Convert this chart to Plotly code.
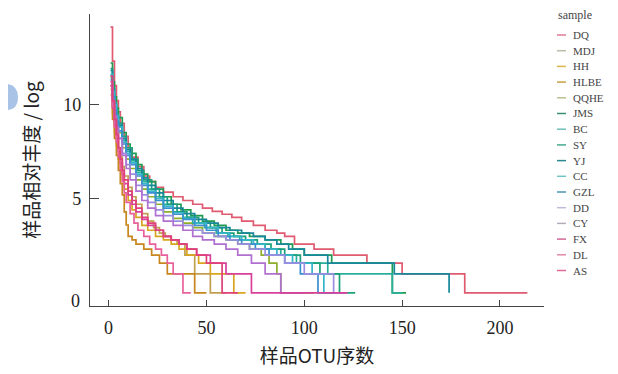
import plotly.graph_objects as go

samples = ["DQ", "MDJ", "HH", "HLBE", "QQHE", "JMS", "BC", "SY", "YJ", "CC", "GZL", "DD", "CY", "FX", "DL", "AS"]
colors = ["#e05a70", "#c0a050", "#d9a520", "#c8861e", "#8fae2a", "#1f9a50", "#2ab09a", "#1ba07a", "#17879a",
          "#35b5c8", "#3a8fcf", "#9a8ee0", "#b070d0", "#d8409a", "#e8609a", "#e0407a"]
legend_colors = ["#e07a90", "#b8bca8", "#d8b84a", "#c8a048", "#b8c090", "#3a9070", "#70c0b8", "#48a890", "#2a8890",
                 "#70c4c4", "#4a94b4", "#c4b8d8", "#b4acbc", "#d06898", "#e08aa8", "#e06a98"]

# rank at which each level starts, and log2 abundance values
DQ_rank = [1, 2, 3, 4, 5, 6, 8, 10, 12, 15, 18, 21, 24, 28, 33, 38, 43, 48, 53, 58, 63, 68, 74, 80, 86, 90, 95, 105, 115, 132, 150, 182, 214]
DQ_log = [14.1, 12.3, 11.0, 10.2, 9.6, 9.0, 8.3, 7.7, 7.2, 6.7, 6.2, 5.9, 5.6, 5.35, 5.1, 4.9, 4.7, 4.5, 4.32, 4.17, 4.0, 3.81, 3.58, 3.32, 3.17, 3.0, 2.58, 2.32, 2.0, 1.58, 1.0, 0, 0]

MDJ_rank = [1, 2, 3, 4, 5, 6, 7, 8, 10, 12, 14, 17, 20, 23, 26, 29, 32, 35, 39, 44, 52, 60]
MDJ_log = [11.0, 9.9, 9.0, 8.3, 7.7, 7.2, 6.7, 6.2, 5.6, 5.1, 4.7, 4.2, 3.81, 3.46, 3.17, 3.0, 2.81, 2.58, 2.0, 1.0, 0, 0]

HH_rank = [1, 2, 3, 4, 5, 6, 7, 8, 10, 12, 14, 17, 20, 24, 28, 32, 36, 40, 46, 52, 64, 70]
HH_log = [10.8, 9.5, 8.5, 7.8, 7.1, 6.5, 6.0, 5.5, 4.9, 4.4, 4.0, 3.58, 3.32, 3.0, 2.81, 2.58, 2.32, 2.0, 1.58, 1.0, 0, 0]

HLBE_rank = [1, 2, 3, 4, 5, 6, 7, 8, 9, 10, 12, 14, 18, 22, 26, 30, 44, 50]
HLBE_log = [10.5, 9.2, 8.2, 7.3, 6.5, 5.8, 5.2, 4.3, 3.6, 3.0, 2.81, 2.58, 2.32, 2.0, 1.58, 1.0, 0, 0]

QQHE_rank = [1, 2, 3, 4, 5, 7, 9, 11, 14, 17, 20, 24, 28, 33, 38, 43, 48, 54, 60, 66, 72, 78, 82, 86, 88, 105]
QQHE_log = [11.4, 10.5, 9.7, 9.1, 8.5, 7.7, 7.1, 6.6, 6.0, 5.5, 5.1, 4.7, 4.3, 3.95, 3.7, 3.46, 3.17, 3.0, 2.81, 2.58, 2.32, 2.0, 1.58, 1.0, 0, 0]

JMS_rank = [1, 2, 3, 4, 5, 7, 9, 11, 14, 17, 20, 24, 28, 32, 37, 42, 48, 54, 60, 66, 72, 80, 88, 94, 100, 114, 145, 152]
JMS_log = [12.2, 11.2, 10.4, 9.8, 9.3, 8.5, 7.9, 7.4, 6.8, 6.3, 5.9, 5.5, 5.1, 4.7, 4.4, 4.1, 3.81, 3.58, 3.32, 3.17, 3.0, 2.81, 2.58, 2.32, 2.0, 1.58, 0, 0]

BC_rank = [1, 2, 3, 4, 5, 7, 9, 11, 14, 17, 20, 24, 28, 33, 38, 43, 49, 55, 61, 67, 73, 80, 88, 96, 112, 145, 150]
BC_log = [11.5, 10.6, 9.9, 9.3, 8.8, 8.1, 7.5, 7.0, 6.4, 5.9, 5.5, 5.1, 4.7, 4.3, 4.0, 3.7, 3.46, 3.17, 3.0, 2.81, 2.58, 2.32, 2.0, 1.58, 1.0, 0, 0]

SY_rank = [1, 2, 3, 4, 5, 7, 9, 12, 15, 18, 22, 26, 30, 35, 40, 46, 52, 58, 64, 70, 76, 83, 90, 98, 108, 118, 126]
SY_log = [11.9, 10.9, 10.1, 9.5, 9.0, 8.3, 7.7, 7.1, 6.5, 6.0, 5.5, 5.1, 4.7, 4.3, 4.0, 3.7, 3.46, 3.17, 3.0, 2.81, 2.58, 2.32, 2.0, 1.58, 1.0, 0, 0]

YJ_rank = [1, 2, 3, 4, 5, 7, 9, 11, 14, 17, 20, 24, 28, 33, 38, 44, 50, 56, 62, 68, 74, 80, 86, 92, 100, 112, 146, 174]
YJ_log = [11.8, 10.8, 10.0, 9.4, 8.9, 8.2, 7.6, 7.1, 6.6, 6.1, 5.7, 5.3, 4.9, 4.5, 4.2, 3.9, 3.7, 3.46, 3.32, 3.17, 3.0, 2.81, 2.58, 2.32, 2.0, 1.58, 1.0, 0]

CC_rank = [1, 2, 3, 4, 5, 7, 9, 11, 14, 17, 20, 24, 28, 33, 38, 44, 50, 56, 62, 68, 74, 80, 86, 94, 104, 110, 118]
CC_log = [11.6, 10.7, 10.0, 9.4, 8.8, 8.0, 7.4, 6.9, 6.3, 5.8, 5.4, 5.0, 4.6, 4.25, 3.95, 3.7, 3.46, 3.17, 3.0, 2.81, 2.58, 2.32, 2.0, 1.58, 1.0, 0, 0]

GZL_rank = [1, 2, 3, 4, 5, 7, 9, 11, 14, 17, 20, 24, 28, 33, 38, 44, 50, 56, 62, 68, 75, 82, 90, 98, 107, 115]
GZL_log = [11.3, 10.4, 9.7, 9.1, 8.6, 7.9, 7.3, 6.8, 6.2, 5.7, 5.3, 4.9, 4.5, 4.17, 3.9, 3.58, 3.32, 3.0, 2.81, 2.58, 2.32, 2.0, 1.58, 1.0, 0, 0]

DD_rank = [1, 2, 3, 4, 5, 7, 9, 11, 14, 17, 20, 24, 28, 33, 38, 43, 48, 54, 60, 66, 72, 80, 90, 100, 115, 122]
DD_log = [11.0, 10.0, 9.3, 8.7, 8.2, 7.4, 6.8, 6.3, 5.7, 5.2, 4.8, 4.4, 4.1, 3.81, 3.58, 3.32, 3.17, 3.0, 2.81, 2.58, 2.32, 2.0, 1.58, 1.0, 0, 0]

CY_rank = [1, 2, 3, 4, 5, 7, 9, 11, 14, 17, 20, 24, 28, 33, 38, 43, 48, 54, 60, 66, 73, 80, 88, 100]
CY_log = [11.2, 10.2, 9.4, 8.8, 8.2, 7.3, 6.6, 6.0, 5.4, 4.9, 4.5, 4.1, 3.81, 3.58, 3.32, 3.0, 2.81, 2.58, 2.32, 2.0, 1.58, 1.0, 0, 0]

FX_rank = [1, 2, 3, 4, 5, 6, 7, 8, 10, 12, 14, 17, 20, 24, 28, 32, 36, 40, 45, 52, 60, 73, 122]
FX_log = [11.0, 9.8, 8.9, 8.2, 7.5, 6.9, 6.3, 5.8, 5.2, 4.7, 4.3, 3.9, 3.58, 3.32, 3.0, 2.81, 2.58, 2.32, 2.0, 1.58, 1.0, 0, 0]

DL_rank = [1, 2, 3, 4, 5, 6, 7, 8, 9, 11, 13, 15, 18, 21, 24, 27, 30, 33, 38, 42]
DL_log = [11.2, 9.9, 8.8, 8.0, 7.2, 6.5, 5.9, 5.3, 4.8, 4.2, 3.7, 3.32, 3.0, 2.58, 2.32, 2.0, 1.58, 1.0, 0, 0]

AS_rank = [1, 2, 3, 4, 5, 6, 7, 8, 10, 12, 14, 17, 20, 24, 28, 32, 36, 40, 45, 50, 58, 66]
AS_log = [11.5, 10.2, 9.2, 8.4, 7.7, 7.1, 6.5, 6.0, 5.4, 4.9, 4.5, 4.0, 3.7, 3.32, 3.0, 2.81, 2.58, 2.32, 2.0, 1.58, 0, 0]

series = {
    "DQ": (DQ_rank, DQ_log), "MDJ": (MDJ_rank, MDJ_log), "HH": (HH_rank, HH_log),
    "HLBE": (HLBE_rank, HLBE_log), "QQHE": (QQHE_rank, QQHE_log), "JMS": (JMS_rank, JMS_log),
    "BC": (BC_rank, BC_log), "SY": (SY_rank, SY_log), "YJ": (YJ_rank, YJ_log), "CC": (CC_rank, CC_log),
    "GZL": (GZL_rank, GZL_log), "DD": (DD_rank, DD_log), "CY": (CY_rank, CY_log),
    "FX": (FX_rank, FX_log), "DL": (DL_rank, DL_log), "AS": (AS_rank, AS_log),
}

x_ticks = [0, 50, 100, 150, 200]
y_ticks = [5, 10]

serif = "Liberation Serif, Times New Roman, serif"
cjk = "Noto Sans CJK SC, sans-serif"

# page is offset by the default 8px body margin; plot area spans page x 90..544, y 14..306
PW, PH = 454.0, 292.0
def px(x):
    return (x - 90) / PW
def py(y):
    return (306 - y) / PH

fig = go.Figure()
for name, col in zip(samples, colors):
    r, v = series[name]
    fig.add_trace(go.Scatter(x=r, y=v, mode="lines", name=name, showlegend=False,
                             line=dict(color=col, width=1.7, shape="hv")))

# manual legend (compact spacing as in the reference)
fig.add_annotation(text="sample", xref="paper", yref="paper", x=px(556), y=py(15),
                   xanchor="left", yanchor="middle", showarrow=False,
                   font=dict(family=serif, size=12, color="#444"))
for i, (name, lc) in enumerate(zip(samples, legend_colors)):
    yy = 35 + i * 15.7
    fig.add_shape(type="line", xref="paper", yref="paper", x0=px(557), x1=px(566), y0=py(yy), y1=py(yy),
                  line=dict(color=lc, width=1.5))
    fig.add_annotation(text=name, xref="paper", yref="paper", x=px(571), y=py(yy),
                       xanchor="left", yanchor="middle", showarrow=False,
                       font=dict(family=serif, size=11, color="#444"))

# faint blue blob at the left edge of the reference image
fig.add_shape(type="path", xref="paper", yref="paper",
              path=f"M {px(0)} {py(84)} L {px(8)} {py(84)} Q {px(18)} {py(86)} {px(18)} {py(97)} "
                   f"Q {px(18)} {py(109)} {px(8)} {py(110)} L {px(0)} {py(110)} Z",
              fillcolor="#a9c3e6", line=dict(width=0), layer="below")

fig.update_layout(
    width=610, height=366,
    margin=dict(l=82, r=74, t=6, b=68, autoexpand=False),
    paper_bgcolor="white", plot_bgcolor="white",
    showlegend=False,
    xaxis=dict(range=[-9.5, 222.5], tickvals=x_ticks, ticks="inside", ticklen=6,
               showline=True, linecolor="#444", linewidth=1.2, tickcolor="#444",
               showgrid=False, zeroline=False, ticklabelstandoff=5,
               tickfont=dict(family=serif, size=18, color="#222"),
               title=dict(text="样品OTU序数", font=dict(family=cjk, size=19, color="#222"), standoff=12)),
    yaxis=dict(range=[-0.7, 14.8], tickvals=y_ticks, ticks="inside", ticklen=9,
               showline=True, linecolor="#444", linewidth=1.2, tickcolor="#444",
               showgrid=False, zeroline=False, ticklabelstandoff=4,
               tickfont=dict(family=serif, size=18, color="#222"),
               title=dict(text="样品相对丰度 / log", font=dict(family=cjk, size=19, color="#222"), standoff=18)),
)
fig.add_annotation(text="0", xref="paper", yref="y", x=0, y=-0.45, xanchor="right", xshift=-8,
                   showarrow=False, font=dict(family=serif, size=18, color="#222"))

fig.write_html("out.html")
